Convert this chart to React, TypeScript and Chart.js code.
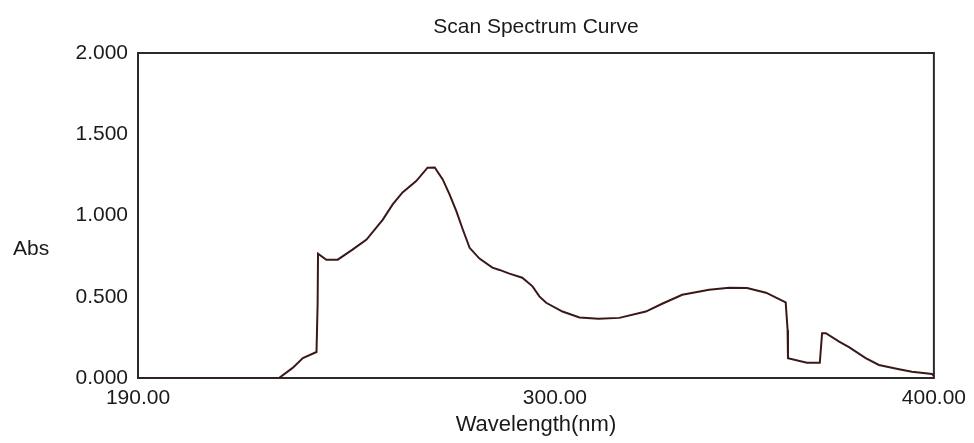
import React, { useEffect, useRef } from "react";
import { Chart, registerables } from "chart.js";

Chart.register(...registerables);

const wavelengths = [
  190, 227.2, 230.8, 233.5, 237.1, 237.4, 237.5, 239.7, 242.7, 246.6, 250.3,
  254.6, 257.2, 259.8, 263.4, 266.4, 268.3, 270.4, 272.2, 274.0, 275.7, 277.5,
  280.1, 283.5, 285.4, 288.0, 291.4, 294.1, 295.9, 297.7, 302.0, 306.5, 311.5,
  317.0, 324.0, 328.3, 333.6, 340.7, 346.0, 350.7, 355.7, 360.9, 361.4, 361.5,
  366.5, 369.9, 370.5, 371.5, 375.0, 377.6, 382.0, 385.5, 390.8, 394.2, 399.5,
  400,
];
const absorbance = [
  0, 0, 0.062, 0.123, 0.16, 0.463, 0.765, 0.728, 0.728, 0.79, 0.852, 0.975,
  1.068, 1.142, 1.212, 1.294, 1.296, 1.222, 1.13, 1.027, 0.914, 0.801, 0.735,
  0.679, 0.665, 0.642, 0.617, 0.564, 0.502, 0.463, 0.409, 0.372, 0.365, 0.37,
  0.409, 0.457, 0.512, 0.543, 0.556, 0.554, 0.525, 0.465, 0.296, 0.122, 0.094,
  0.094, 0.276, 0.276, 0.224, 0.19, 0.122, 0.08, 0.054, 0.039, 0.025, 0.012,
];
const xTickValues = [190, 300, 400];
const yTickValues = [0, 0.5, 1, 1.5, 2];

const FONT = "'Liberation Sans', Arial, sans-serif";
const TEXT = "#1a1a1a";

const framePlugin = {
  id: "frame",
  afterLayout(chart: any) {
    // centre the title over the plot area, as in the original software
    const tb = chart.titleBlock;
    if (tb) {
      tb.left = chart.chartArea.left;
      tb.right = chart.chartArea.right;
      tb.width = tb.right - tb.left;
    }
  },
  beforeDatasetsDraw(chart: any) {
    const { ctx, chartArea } = chart;
    ctx.save();
    ctx.strokeStyle = "#2a2a2a";
    ctx.lineWidth = 2;
    ctx.strokeRect(
      chartArea.left,
      chartArea.top,
      chartArea.right - chartArea.left,
      chartArea.bottom - chartArea.top
    );
    ctx.restore();
  },
};

export default function App() {
  const ref = useRef<HTMLCanvasElement>(null);
  useEffect(() => {
    const chart = new Chart(ref.current as HTMLCanvasElement, {
      type: "line",
      data: {
        datasets: [
          {
            data: wavelengths.map((x, i) => ({ x, y: absorbance[i] })),
            borderColor: "#3b1818",
            borderWidth: 2,
            pointRadius: 0,
            tension: 0,
            fill: false,
          },
        ],
      },
      options: {
        animation: false,
        responsive: false,
        devicePixelRatio: 1,
        layout: { padding: { left: 0, right: 39, top: 0, bottom: 0 } },
        plugins: {
          legend: { display: false },
          tooltip: { enabled: false },
          title: {
            display: true,
            text: "Scan Spectrum Curve",
            color: TEXT,
            font: { family: FONT, size: 21, weight: "normal", lineHeight: 1.2 },
            padding: { top: 15, bottom: 12.8 },
          },
        },
        scales: {
          x: {
            type: "linear",
            min: 190,
            max: 400,
            grid: { display: false, drawTicks: false },
            border: { display: false },
            afterBuildTicks: (scale: any) => {
              scale.ticks = xTickValues.map((v) => ({ value: v }));
            },
            afterFit: (scale: any) => {
              scale.height = 65;
            },
            ticks: {
              padding: 8,
              maxRotation: 0,
              color: TEXT,
              font: { family: FONT, size: 21 },
              callback: (v: any) => Number(v).toFixed(2),
            },
            title: {
              display: true,
              text: "Wavelength(nm)",
              color: TEXT,
              font: { family: FONT, size: 22, lineHeight: 1.2 },
              padding: { top: 0, bottom: 5 },
            },
          },
          y: {
            type: "linear",
            min: 0,
            max: 2,
            grid: { display: false, drawTicks: false },
            border: { display: false },
            afterBuildTicks: (scale: any) => {
              scale.ticks = yTickValues.map((v) => ({ value: v }));
            },
            afterFit: (scale: any) => {
              scale.width = 138;
            },
            ticks: {
              padding: 10,
              color: TEXT,
              font: { family: FONT, size: 21 },
              callback: (v: any) => Number(v).toFixed(3),
            },
          },
        },
      },
      plugins: [framePlugin],
    });
    return () => chart.destroy();
  }, []);

  return (
    <div
      style={{
        position: "absolute",
        left: 0,
        top: 0,
        width: 974,
        height: 443,
        background: "#fff",
      }}
    >
      <canvas ref={ref} width={974} height={443} style={{ display: "block" }} />
      <div
        style={{
          position: "absolute",
          left: 13,
          top: 235,
          fontFamily: FONT,
          fontSize: 21,
          lineHeight: "25px",
          color: TEXT,
        }}
      >
        Abs
      </div>
    </div>
  );
}
